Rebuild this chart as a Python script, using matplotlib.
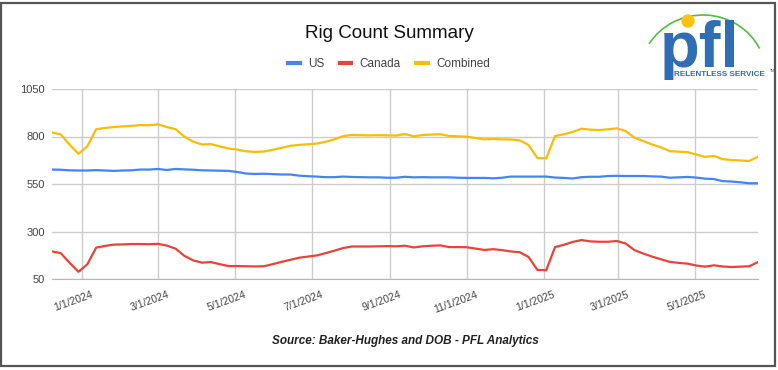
import matplotlib
matplotlib.use("Agg")
import matplotlib.pyplot as plt
import matplotlib.transforms as mtransforms
from matplotlib.patches import Arc, Circle, Rectangle
import pandas as pd

plt.rcParams['font.family'] = ['Liberation Sans', 'DejaVu Sans']

# weekly rig counts, Fridays from 12/8/2023 to 6/20/2025
us = [626, 625, 622, 621, 621, 623, 621, 619, 621, 622,
      626, 626, 629, 624, 629, 627, 625, 622, 621, 620,
      619, 613, 605, 603, 604, 602, 600, 600, 594, 591,
      589, 586, 586, 589, 587, 586, 585, 585, 583, 583,
      588, 585, 586, 585, 585, 585, 583, 582, 582, 582,
      580, 583, 589, 589, 589, 589, 589, 584, 582, 579,
      586, 588, 588, 592, 593, 592, 592, 592, 590, 589,
      583, 585, 587, 584, 578, 576, 565, 563, 559, 554, 554]
canada = [195, 186, 135, 88, 127, 215, 224, 231, 232, 234,
          234, 233, 235, 226, 210, 172, 148, 136, 139, 128,
          118, 118, 117, 116, 117, 128, 140, 151, 162, 168,
          174, 186, 199, 213, 221, 221, 221, 222, 223, 222,
          225, 216, 222, 225, 227, 218, 218, 217, 210, 203,
          207, 202, 195, 191, 166, 98, 96, 218, 230, 245,
          255, 248, 246, 246, 250, 237, 202, 184, 168, 154,
          140, 135, 131, 121, 115, 122, 116, 113, 115, 117, 139]
combined = [821, 811, 757, 709, 748, 838, 845, 850, 853, 856,
            860, 859, 864, 850, 839, 799, 773, 758, 760, 748,
            737, 731, 722, 719, 721, 730, 740, 751, 756, 759,
            763, 772, 785, 802, 808, 807, 806, 807, 806, 805,
            813, 801, 808, 810, 812, 803, 801, 799, 792, 785,
            787, 785, 784, 780, 755, 687, 685, 802, 812, 824,
            841, 836, 834, 838, 843, 829, 794, 776, 758, 743,
            723, 720, 718, 705, 693, 698, 681, 676, 674, 671, 693]
weeks = pd.date_range('2023-12-08', periods=len(us), freq='7D')

series_names = ['US', 'Canada', 'Combined']
series_colors = ['#4285F4', '#EA4335', '#FBBC04']

y_ticks = [50, 300, 550, 800, 1050]
tick_dates = pd.to_datetime(['2024-01-01', '2024-03-01', '2024-05-01', '2024-07-01',
                             '2024-09-01', '2024-11-01', '2025-01-01', '2025-03-01',
                             '2025-05-01'])
tick_labels = ['1/1/2024', '3/1/2024', '5/1/2024', '7/1/2024', '9/1/2024',
               '11/1/2024', '1/1/2025', '3/1/2025', '5/1/2025']

W, H = 778, 370
fig = plt.figure(figsize=(W / 100, H / 100), dpi=100)
fig.patch.set_facecolor('white')

ax = fig.add_axes([52 / W, 1 - 279 / H, (758 - 52) / W, (279 - 89) / H])
for vals, name, col in zip([us, canada, combined], series_names, series_colors):
    ax.plot(weeks, vals, color=col, lw=1.6, label=name, solid_joinstyle='round')

ax.set_xlim(weeks[0], weeks[-1])
ax.set_ylim(50, 1050)
ax.set_yticks(y_ticks)
ax.set_yticklabels([str(v) for v in y_ticks])
ax.set_xticks(tick_dates)
ax.set_xticklabels(tick_labels, rotation=20, ha='right', va='top', rotation_mode='anchor')
ax.tick_params(length=0, labelsize=8, labelcolor='#444444', pad=5)
ax.tick_params(axis='x', labelsize=7.6)
offset = mtransforms.ScaledTranslation(9 / 100, -4 / 100, fig.dpi_scale_trans)
for lab in ax.get_xticklabels():
    lab.set_transform(lab.get_transform() + offset)
ax.grid(True, color='#cccccc', lw=1)
ax.set_axisbelow(True)
for s in ['top', 'right', 'left']:
    ax.spines[s].set_visible(False)
ax.spines['bottom'].set_color('#b8b8b8')

fig.text(389 / W, 1 - 33 / H, 'Rig Count Summary', ha='center', va='center',
         fontsize=13.5, color='#111111')
fig.legend(loc='center', bbox_to_anchor=(389 / W, 1 - 64 / H), ncol=3, frameon=False,
           fontsize=8.5, handlelength=1.0, handletextpad=0.7, columnspacing=1.3,
           labelcolor='#444444')
for h in fig.legends[0].legend_handles:
    h.set_linewidth(3)

fig.text(405 / W, 1 - 341 / H, 'Source: Baker-Hughes and DOB - PFL Analytics',
         ha='center', va='center', fontsize=8.5, fontweight='bold', style='italic',
         color='#222222')

# overlay in pixel coords for border and logo
ov = fig.add_axes([0, 0, 1, 1], zorder=5)
ov.set_xlim(0, W)
ov.set_ylim(0, H)
ov.axis('off')
ov.patch.set_alpha(0)
ov.add_patch(Rectangle((1.5, H - 366), 774, 363, fill=False, ec='#555555', lw=1.6))

ov.add_patch(Arc((703, H - 75), 126, 120, theta1=25, theta2=150, color='#4CC23A', lw=1.2))
ov.text(700, H - 67, 'pfl', ha='center', va='baseline', fontsize=47, fontweight='bold',
        color='#2F6DB5')
ov.add_patch(Circle((688, H - 21), 6, color='#FFC20E', zorder=6))
ov.text(674, H - 74, 'RELENTLESS SERVICE', ha='left', va='center', fontsize=5.9,
        fontweight='bold', color='#2F6DB5')
ov.text(770, H - 71, 'TM', ha='left', va='center', fontsize=2.5, color='#2F6DB5')

fig.savefig('out.png', dpi=100)
